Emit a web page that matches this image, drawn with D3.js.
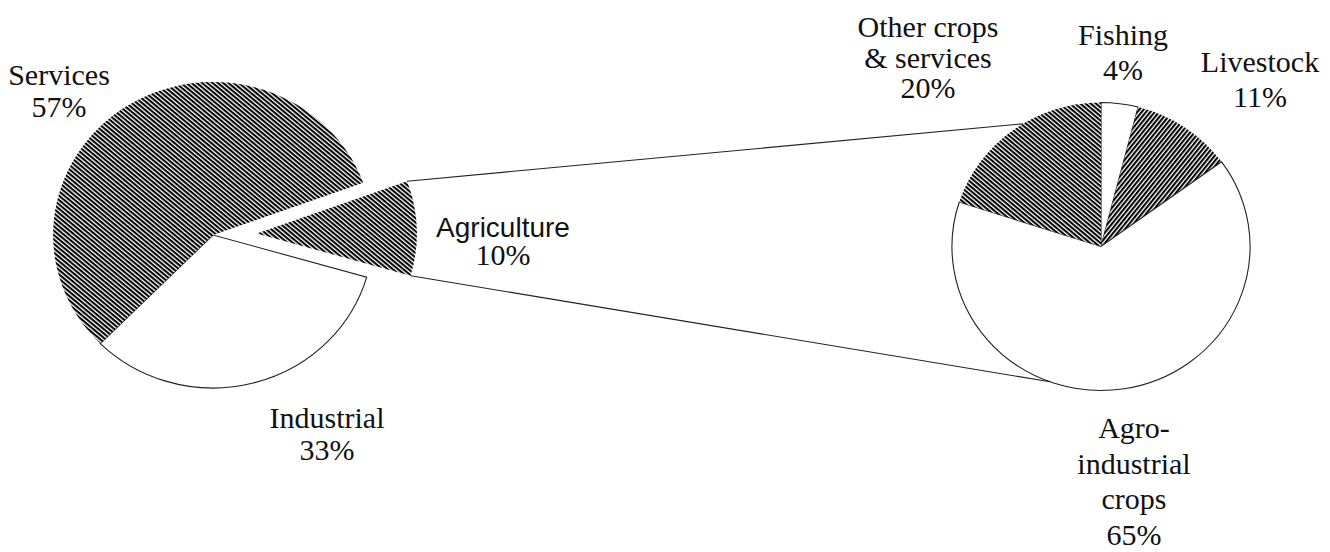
<!DOCTYPE html>
<html>
<head>
<meta charset="utf-8">
<script src="https://cdn.jsdelivr.net/npm/d3@7"></script>
<style>
  html, body { margin: 0; background: #fff; }
  text { font-family: "Liberation Serif", "Times New Roman", serif; fill: #111; }
</style>
</head>
<body>
<div id="chart"></div>
<script>
// economy by sector (%), clockwise from the exploded slice
const sectors = ["Agriculture", "Industrial", "Services"];
const sectorShares = [10, 33, 57];
const sectorLabelLines = [["Agriculture"], ["Industrial"], ["Services"]];

// breakdown of agriculture (%), clockwise from 12 o'clock
const farmParts = ["Fishing", "Livestock", "Agro-industrial crops", "Other crops & services"];
const farmShares = [4, 11, 65, 20];
const farmLabelLines = [["Fishing"], ["Livestock"], ["Agro-", "industrial", "crops"], ["Other crops", "& services"]];

const width = 1330, height = 552;
const deg = Math.PI / 180;

const chartConfig = {
  left:  { cx: 213, cy: 235, r: 153, sx: 1.045, start: 70 * deg, explode: 42 },
  right: { cx: 1101, cy: 246.5, r: 144, sx: 1.035, start: 0 },
  // where the two connector lines meet the right pie
  connectTop: -31.6 * deg,
  connectBottom: 200 * deg,
  fill: {
    "Agriculture": "url(#hatchBack)",
    "Industrial": "#fff",
    "Services": "url(#hatchBack)",
    "Fishing": "#fff",
    "Livestock": "url(#hatchFwd)",
    "Agro-industrial crops": "#fff",
    "Other crops & services": "url(#hatchBack)"
  },
  // label anchor (centre of text block, first baseline) and line step
  labels: {
    "Services": { x: 59, y: 85, step: 32 },
    "Industrial": { x: 327, y: 428, step: 32 },
    "Agriculture": { x: 503, y: 237, step: 28, sans: true },
    "Other crops & services": { x: 928, y: 37, step: 30.5 },
    "Fishing": { x: 1123, y: 45, step: 35 },
    "Livestock": { x: 1260, y: 72, step: 35 },
    "Agro-industrial crops": { x: 1134, y: 438, step: 35.5 }
  }
};

const svg = d3.select("#chart").append("svg")
  .attr("width", width)
  .attr("height", height);

// HATCH PATTERNS
const defs = svg.append("defs");
function hatch(id, angle) {
  const p = defs.append("pattern")
    .attr("id", id)
    .attr("patternUnits", "userSpaceOnUse")
    .attr("width", 3.3)
    .attr("height", 3.3)
    .attr("patternTransform", `rotate(${angle})`);
  p.append("rect").attr("width", 3.3).attr("height", 3.3).attr("fill", "#fff");
  p.append("rect").attr("width", 3.3).attr("height", 2.0).attr("fill", "#000");
}
hatch("hatchBack", 41);
hatch("hatchFwd", -52);

function drawPie(cfg, names, shares, explodeName) {
  const pie = d3.pie().sort(null)
    .startAngle(cfg.start)
    .endAngle(cfg.start + 2 * Math.PI);
  const arc = d3.arc().innerRadius(0).outerRadius(cfg.r);
  const slices = pie(shares).map((d, i) => Object.assign(d, { name: names[i] }));

  const g = svg.append("g")
    .attr("transform", `translate(${cfg.cx},${cfg.cy}) scale(${cfg.sx},1)`);

  g.selectAll("path")
    .data(slices)
    .enter()
    .append("path")
    .attr("transform", d => {
      if (d.name !== explodeName) return null;
      const mid = (d.startAngle + d.endAngle) / 2;
      return `translate(${cfg.explode * Math.sin(mid)},${-cfg.explode * Math.cos(mid)})`;
    })
    .attr("d", arc)
    .attr("fill", d => chartConfig.fill[d.name])
    .attr("stroke", d => chartConfig.fill[d.name] === "#fff" ? "#222" : "none")
    .attr("stroke-width", 1.1)
    .attr("vector-effect", "non-scaling-stroke");

  return slices;
}

const leftSlices = drawPie(chartConfig.left, sectors, sectorShares, "Agriculture");
drawPie(chartConfig.right, farmParts, farmShares, null);

// CONNECTORS from the exploded slice to the breakdown pie
const L = chartConfig.left, R = chartConfig.right;
const agri = leftSlices.find(d => d.name === "Agriculture");
const mid = (agri.startAngle + agri.endAngle) / 2;
function leftPoint(a) {
  return [
    L.cx + L.sx * (L.explode * Math.sin(mid) + L.r * Math.sin(a)),
    L.cy - (L.explode * Math.cos(mid) + L.r * Math.cos(a))
  ];
}
function rightPoint(a) {
  return [R.cx + R.sx * R.r * Math.sin(a), R.cy - R.r * Math.cos(a)];
}
const connectors = [
  [leftPoint(agri.startAngle), rightPoint(chartConfig.connectTop)],
  [leftPoint(agri.endAngle), rightPoint(chartConfig.connectBottom)]
];
svg.append("g").selectAll("line")
  .data(connectors)
  .enter()
  .append("line")
  .attr("x1", d => d[0][0]).attr("y1", d => d[0][1])
  .attr("x2", d => d[1][0]).attr("y2", d => d[1][1])
  .attr("stroke", "#222")
  .attr("stroke-width", 1.1);

// LABELS
const labelData = sectors.map((n, i) => ({ name: n, lines: sectorLabelLines[i].concat(sectorShares[i] + "%") }))
  .concat(farmParts.map((n, i) => ({ name: n, lines: farmLabelLines[i].concat(farmShares[i] + "%") })));

const labels = svg.append("g").selectAll("text")
  .data(labelData)
  .enter()
  .append("text")
  .attr("text-anchor", "middle")
  .attr("font-size", "30px");

labels.each(function (d) {
  const pos = chartConfig.labels[d.name];
  d3.select(this).selectAll("tspan")
    .data(d.lines)
    .enter()
    .append("tspan")
    .attr("x", pos.x)
    .attr("y", (t, i) => pos.y + i * pos.step)
    .style("font-family", (t, i) => pos.sans && i === 0 ? "'Liberation Sans', Arial, sans-serif" : null)
    .attr("font-size", (t, i) => pos.sans && i === 0 ? "28px" : null)
    .text(t => t);
});
</script>
</body>
</html>
